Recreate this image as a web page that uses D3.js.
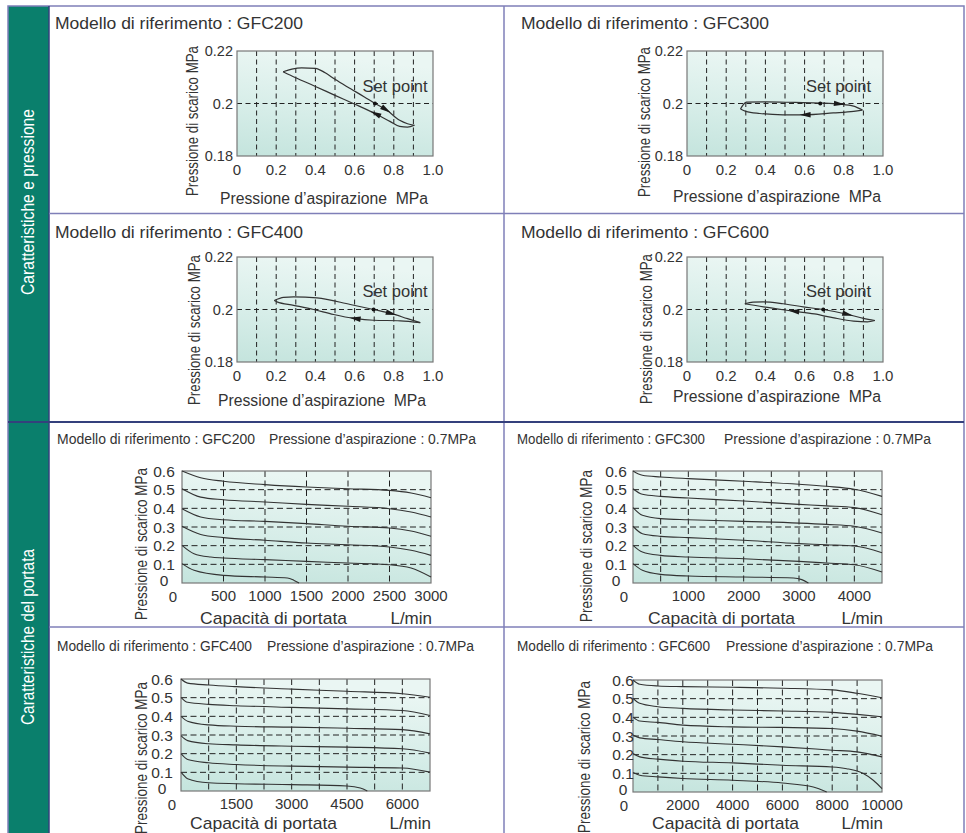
<!DOCTYPE html>
<html><head><meta charset="utf-8">
<script src="https://cdn.jsdelivr.net/npm/d3@7"></script>
<style>body{margin:0;background:#fff}svg{display:block}text{font-family:"Liberation Sans",Arial,sans-serif;fill:#333}</style>
</head><body>
<svg id="c" width="966" height="833"></svg>
<script>
// ---------------- DATA ----------------
const sectionLabels = ["Caratteristiche e pressione", "Caratteristiche del portata"];
const models = ["GFC200", "GFC300", "GFC400", "GFC600"];
const titlePrefix = "Modello di riferimento : ";
const inletNote = "Pressione d\u2019aspirazione : 0.7MPa";

// Pressure characteristics (x: inlet pressure MPa, y: outlet pressure MPa)
const pressureXTicks = [0, 0.2, 0.4, 0.6, 0.8, 1.0];
const pressureXTickLabels = ["0", "0.2", "0.4", "0.6", "0.8", "1.0"];
const pressureXGrid = [0.1, 0.2, 0.3, 0.4, 0.5, 0.6, 0.7, 0.8, 0.9];
const pressureYTicks = [0.18, 0.2, 0.22];
const pressureYTickLabels = ["0.18", "0.2", "0.22"];
const pressureYGrid = [0.2];

const gfc200Upper = [[0.235,0.2121],[0.28,0.2131],[0.33,0.2136],[0.4,0.2134],[0.45,0.2117],[0.5,0.2092],[0.58,0.2056],[0.65,0.2025],[0.704,0.2],[0.763,0.1975],[0.83,0.1936],[0.87,0.1923],[0.905,0.1917]];
const gfc200Lower = [[0.235,0.2121],[0.3,0.2098],[0.4,0.2065],[0.5,0.2031],[0.593,0.2],[0.704,0.1962],[0.78,0.1932],[0.83,0.1913],[0.87,0.1910],[0.905,0.1917]];
const gfc300Upper = [[0.273,0.1979],[0.303,0.2005],[0.405,0.2006],[0.55,0.2004],[0.68,0.2002],[0.78,0.1998],[0.85,0.1990],[0.895,0.1975]];
const gfc300Lower = [[0.273,0.1979],[0.3,0.1970],[0.371,0.1962],[0.49,0.1957],[0.601,0.1957],[0.746,0.1964],[0.85,0.1970],[0.895,0.1975]];
const gfc400Upper = [[0.19,0.2034],[0.238,0.2046],[0.289,0.2048],[0.408,0.2044],[0.578,0.2019],[0.697,0.2],[0.791,0.1984],[0.87,0.1965],[0.935,0.1950]];
const gfc400Lower = [[0.19,0.2034],[0.204,0.2029],[0.289,0.2016],[0.391,0.2],[0.493,0.1981],[0.599,0.1966],[0.697,0.1959],[0.833,0.1957],[0.935,0.1950]];
const gfc600Upper = [[0.295,0.2022],[0.337,0.2028],[0.388,0.2029],[0.49,0.2022],[0.593,0.2010],[0.695,0.2],[0.823,0.1981],[0.9,0.1966],[0.959,0.1958]];
const gfc600Lower = [[0.295,0.2022],[0.39,0.2010],[0.542,0.1994],[0.65,0.1983],[0.75,0.1968],[0.85,0.1956],[0.92,0.1953],[0.959,0.1958]];
const setPoints = [[0.704,0.2],[0.68,0.2],[0.697,0.2],[0.695,0.2]];
const upperArrowX = [0.763, 0.78, 0.79, 0.823];
const lowerArrowX = [0.704, 0.6, 0.6, 0.542];
const setPointLabel = "Set point";
const setPointLabelPos = [[0.64,0.2045],[0.607,0.2045],[0.64,0.2048],[0.607,0.2048]];
const pressureXLabel = "Pressione d\u2019aspirazione\u00a0 MPa";
const outletYLabel = "Pressione di scarico MPa";

// Flow characteristics (x: flow L/min, y: outlet pressure MPa)
const flowXMax = [3000, 4500, 6750, 10000];
const flowXGrid = [
  [500,1000,1500,2000,2500],
  [500,1000,1500,2000,2500,3000,3500,4000],
  [750,1500,2250,3000,3750,4500,5250,6000],
  [1000,2000,3000,4000,5000,6000,7000,8000,9000]
];
const flowXTicks = [
  [0,500,1000,1500,2000,2500,3000],
  [0,1000,2000,3000,4000],
  [0,1500,3000,4500,6000],
  [0,2000,4000,6000,8000,10000]
];
const flowYTicks = [0, 0.1, 0.2, 0.3, 0.4, 0.5, 0.6];
const flowYTickLabels = ["0", "0.1", "0.2", "0.3", "0.4", "0.5", "0.6"];
const flowYGrid = [0.1, 0.2, 0.3, 0.4, 0.5];
const flowXLabel = "Capacit\u00e0 di portata";
const flowUnit = "L/min";

const gfc200Flow = [
  [[0,0.6],[225,0.564],[500,0.545],[1000,0.527],[1500,0.514],[2000,0.505],[2500,0.496],[2760,0.482],[3000,0.457]],
  [[0,0.505],[225,0.46],[500,0.446],[1000,0.434],[1500,0.421],[2000,0.411],[2500,0.398],[2760,0.38],[3000,0.354]],
  [[0,0.398],[225,0.354],[500,0.339],[1000,0.33],[1500,0.318],[2000,0.304],[2500,0.295],[2760,0.279],[3000,0.25]],
  [[0,0.304],[225,0.26],[500,0.243],[1000,0.229],[1500,0.214],[2000,0.205],[2500,0.193],[2760,0.175],[3000,0.148]],
  [[0,0.202],[145,0.157],[346,0.139],[500,0.134],[1000,0.125],[1500,0.116],[2000,0.107],[2500,0.098],[2760,0.08],[3000,0.032]],
  [[0,0.104],[145,0.068],[500,0.041],[1000,0.032],[1270,0.027],[1350,0.014],[1410,0]]
];
const gfc300Flow = [
  [[0,0.6],[170,0.577],[500,0.568],[1000,0.559],[2000,0.545],[3000,0.529],[3500,0.518],[4000,0.502],[4500,0.464]],
  [[0,0.505],[170,0.475],[500,0.464],[1000,0.455],[2000,0.439],[3000,0.421],[3500,0.413],[4000,0.404],[4500,0.366]],
  [[0,0.404],[170,0.3625],[500,0.345],[1000,0.339],[2000,0.33],[3000,0.321],[3500,0.314],[4000,0.304],[4500,0.268]],
  [[0,0.304],[170,0.264],[500,0.25],[1000,0.243],[2000,0.229],[3000,0.211],[3500,0.205],[4000,0.198],[4500,0.1625]],
  [[0,0.202],[170,0.166],[500,0.148],[1000,0.139],[2000,0.13],[3000,0.116],[3500,0.107],[4000,0.098],[4500,0.059]],
  [[0,0.104],[170,0.068],[500,0.046],[1000,0.0375],[2000,0.032],[2900,0.027],[3050,0.018],[3170,0]]
];
const gfc400Flow = [
  [[0,0.6],[180,0.578],[750,0.568],[1500,0.559],[3000,0.546],[4500,0.534],[6000,0.521],[6750,0.502]],
  [[0,0.502],[180,0.475],[750,0.464],[1500,0.457],[3000,0.448],[4500,0.44],[6000,0.431],[6750,0.404]],
  [[0,0.4],[180,0.374],[750,0.354],[1500,0.347],[3000,0.342],[4500,0.336],[6000,0.329],[6750,0.306]],
  [[0,0.297],[180,0.27],[750,0.253],[1500,0.247],[3000,0.24],[4500,0.235],[6000,0.226],[6750,0.203]],
  [[0,0.2],[180,0.169],[750,0.151],[1500,0.142],[3000,0.133],[4500,0.128],[6000,0.123],[6750,0.101]],
  [[0,0.101],[180,0.066],[750,0.044],[1500,0.039],[3000,0.034],[4500,0.027],[4860,0.016],[5050,0]]
];
const gfc600Flow = [
  [[0,0.6],[270,0.577],[1000,0.568],[2000,0.5645],[4000,0.561],[6000,0.556],[8000,0.547],[9000,0.529],[10000,0.505]],
  [[0,0.502],[270,0.475],[1000,0.457],[2000,0.448],[4000,0.439],[6000,0.434],[8000,0.4265],[9000,0.416],[10000,0.403]],
  [[0,0.401],[270,0.38],[1000,0.373],[2000,0.358],[4000,0.349],[6000,0.346],[8000,0.34],[9000,0.326],[10000,0.299]],
  [[0,0.305],[270,0.29],[1000,0.281],[2000,0.269],[4000,0.256],[6000,0.242],[8000,0.224],[9000,0.215],[10000,0.188]],
  [[0,0.206],[270,0.188],[1000,0.176],[2000,0.165],[4000,0.156],[6000,0.143],[8000,0.134],[8580,0.125],[9250,0.099],[9650,0.063],[10000,0.018]],
  [[0,0.104],[270,0.09],[1000,0.081],[2000,0.072],[4000,0.063],[6000,0.048],[7240,0.027],[7780,0]]
];

// ---------------- LAYOUT ----------------
const PW = 196, PH = 105;   // pressure plot size
const FW = 249, FH = 112;   // flow plot size
const topLayout = [
  {px:237, py:51,  tx:55,  ty:29,  ylx:198, yly:121, xlx:220, xly:204},
  {px:687, py:51,  tx:521, ty:29,  ylx:650, yly:122, xlx:673, xly:202},
  {px:237, py:257, tx:55,  ty:238, ylx:200, yly:330, xlx:218, xly:406},
  {px:687, py:257, tx:521, ty:238, ylx:652, yly:329, xlx:673, xly:402}
];
const botLayout = [
  {px:182, py:471, tx:57,  ty:444, t1:198, t2x:269, ylx:147, yly:544, cx:200, cy:624, ytx:-18},
  {px:633, py:471, tx:517, ty:444, t1:188, t2x:724, ylx:592, yly:546, cx:648, cy:624, ytx:-17},
  {px:181, py:679, tx:57,  ty:651, t1:195, t2x:267, ylx:147, yly:758, cx:190, cy:829, ytx:-19},
  {px:633, py:680, tx:517, ty:651, t1:193, t2x:726, ylx:590, yly:757, cx:652, cy:829, ytx:-10}
];

const svg = d3.select("#c");
const defs = svg.append("defs");
const grad = defs.append("linearGradient").attr("id","bg")
  .attr("x1",0.2).attr("y1",0).attr("x2",0).attr("y2",1);
grad.append("stop").attr("offset","0%").attr("stop-color","#eaf6f3");
grad.append("stop").attr("offset","55%").attr("stop-color","#d6ede8");
grad.append("stop").attr("offset","100%").attr("stop-color","#c4e4dd");

// ---------------- FRAME ----------------
const frameCol = "#7f7fb8", navy = "#34407c";
svg.append("rect").attr("x",8).attr("y",6).attr("width",41).attr("height",840).attr("fill","#0a7f6c");
svg.append("rect").attr("x",8).attr("y",6).attr("width",956).attr("height",840)
  .attr("fill","none").attr("stroke",frameCol).attr("stroke-width",1.5);
svg.append("line").attr("x1",49).attr("x2",49).attr("y1",6).attr("y2",833).attr("stroke",navy).attr("stroke-width",1.5);
svg.append("line").attr("x1",504).attr("x2",504).attr("y1",6).attr("y2",833).attr("stroke",frameCol).attr("stroke-width",1.5);
svg.append("line").attr("x1",49).attr("x2",964).attr("y1",213.5).attr("y2",213.5).attr("stroke",frameCol).attr("stroke-width",1.5);
svg.append("line").attr("x1",8).attr("x2",964).attr("y1",422).attr("y2",422).attr("stroke",navy).attr("stroke-width",1.8);
svg.append("line").attr("x1",49).attr("x2",964).attr("y1",627).attr("y2",627).attr("stroke",frameCol).attr("stroke-width",1.5);

const bandPos = [[34,202,186],[34,637,176]];
sectionLabels.forEach((s,i)=>{
  svg.append("text").text(s)
    .attr("transform",`translate(${bandPos[i][0]},${bandPos[i][1]}) rotate(-90)`)
    .attr("text-anchor","middle").attr("font-size",17.5)
    .attr("textLength",bandPos[i][2]).attr("lengthAdjust","spacingAndGlyphs")
    .style("fill","#ffffff");
});

// ---------------- HELPERS ----------------
function arrowOn(pathNode, targetX, reverse, g){
  const total = pathNode.getTotalLength();
  let lo = 0, hi = total;
  for(let k=0;k<40;k++){
    const mid=(lo+hi)/2;
    if(pathNode.getPointAtLength(mid).x < targetX) lo=mid; else hi=mid;
  }
  const l=(lo+hi)/2;
  const p = pathNode.getPointAtLength(l);
  const a = pathNode.getPointAtLength(Math.max(0,l-2));
  const b = pathNode.getPointAtLength(Math.min(total,l+2));
  let ang = Math.atan2(b.y-a.y, b.x-a.x)*180/Math.PI;
  if(reverse) ang += 180;
  g.append("path").attr("d","M5,0 L-6,-2.7 L-6,2.7 Z").attr("fill","#1a1a1a")
    .attr("transform",`translate(${p.x},${p.y}) rotate(${ang})`);
}

// ---------------- PRESSURE PANELS ----------------
const loops = [[gfc200Upper,gfc200Lower],[gfc300Upper,gfc300Lower],[gfc400Upper,gfc400Lower],[gfc600Upper,gfc600Lower]];
loops.forEach((lp,i)=>{
  const L = topLayout[i];
  const g = svg.append("g");
  const x = d3.scaleLinear().domain([0,1]).range([L.px, L.px+PW]);
  const y = d3.scaleLinear().domain([0.18,0.22]).range([L.py+PH, L.py]);
  g.append("text").text(titlePrefix+models[i]).attr("x",L.tx).attr("y",L.ty)
    .attr("font-size",16).attr("textLength",248).attr("lengthAdjust","spacingAndGlyphs");
  g.append("rect").attr("x",x(0)).attr("y",y(0.22)).attr("width",x(1)-x(0)).attr("height",y(0.18)-y(0.22)).attr("fill","url(#bg)");
  g.selectAll(".vg").data(pressureXGrid).join("line")
    .attr("x1",d=>x(d)).attr("x2",d=>x(d)).attr("y1",y(0.22)).attr("y2",y(0.18))
    .attr("stroke","#222").attr("stroke-width",1).attr("stroke-dasharray","5,3.5");
  g.selectAll(".hg").data(pressureYGrid).join("line")
    .attr("x1",x(0)).attr("x2",x(1)).attr("y1",d=>y(d)).attr("y2",d=>y(d))
    .attr("stroke","#222").attr("stroke-width",1).attr("stroke-dasharray","5,3.5");
  g.append("rect").attr("x",x(0)).attr("y",y(0.22)).attr("width",x(1)-x(0)).attr("height",y(0.18)-y(0.22))
    .attr("fill","none").attr("stroke","#777").attr("stroke-width",1.2);
  // ticks
  g.selectAll(".xt").data(pressureXTicks).join("text").text((d,j)=>pressureXTickLabels[j])
    .attr("x",d=>x(d)).attr("y",y(0.18)+19).attr("text-anchor","middle").attr("font-size",15);
  g.selectAll(".yt").data(pressureYTicks).join("text").text((d,j)=>pressureYTickLabels[j])
    .attr("x",x(0)-4).attr("y",d=>y(d)).attr("dy","0.36em").attr("text-anchor","end").attr("font-size",14.5);
  // axis labels
  g.append("text").text(pressureXLabel).attr("x",L.xlx).attr("y",L.xly).attr("font-size",16)
    .attr("textLength",208).attr("lengthAdjust","spacingAndGlyphs");
  g.append("text").text(outletYLabel).attr("transform",`translate(${L.ylx},${L.yly}) rotate(-90)`)
    .attr("text-anchor","middle").attr("font-size",16).attr("textLength",150).attr("lengthAdjust","spacingAndGlyphs");
  // curves
  const line = d3.line().x(d=>x(d[0])).y(d=>y(d[1])).curve(d3.curveMonotoneX);
  const up = g.append("path").datum(lp[0]).attr("d",line).attr("fill","none").attr("stroke","#333").attr("stroke-width",1.2);
  const lo = g.append("path").datum(lp[1]).attr("d",line).attr("fill","none").attr("stroke","#333").attr("stroke-width",1.2);
  arrowOn(up.node(), x(upperArrowX[i]), false, g);
  arrowOn(lo.node(), x(lowerArrowX[i]), true, g);
  g.append("circle").attr("cx",x(setPoints[i][0])).attr("cy",y(setPoints[i][1])).attr("r",2).attr("fill","#111");
  g.append("text").text(setPointLabel).attr("x",x(setPointLabelPos[i][0])).attr("y",y(setPointLabelPos[i][1]))
    .attr("font-size",16.5);
});

// ---------------- FLOW PANELS ----------------
const flows = [gfc200Flow, gfc300Flow, gfc400Flow, gfc600Flow];
flows.forEach((curves,i)=>{
  const L = botLayout[i];
  const g = svg.append("g");
  const x = d3.scaleLinear().domain([0,flowXMax[i]]).range([L.px, L.px+FW]);
  const y = d3.scaleLinear().domain([0,0.6]).range([L.py+FH, L.py]);
  g.append("text").text(titlePrefix+models[i]).attr("x",L.tx).attr("y",L.ty)
    .attr("font-size",15.5).attr("textLength",L.t1).attr("lengthAdjust","spacingAndGlyphs");
  g.append("text").text(inletNote).attr("x",L.t2x).attr("y",L.ty)
    .attr("font-size",15.5).attr("textLength",207).attr("lengthAdjust","spacingAndGlyphs");
  g.append("rect").attr("x",x(0)).attr("y",y(0.6)).attr("width",FW).attr("height",FH).attr("fill","url(#bg)");
  g.selectAll(".vg").data(flowXGrid[i]).join("line")
    .attr("x1",d=>x(d)).attr("x2",d=>x(d)).attr("y1",y(0.6)).attr("y2",y(0))
    .attr("stroke","#222").attr("stroke-width",1).attr("stroke-dasharray","6,3.5");
  g.selectAll(".hg").data(flowYGrid).join("line")
    .attr("x1",x(0)).attr("x2",x(flowXMax[i])).attr("y1",d=>y(d)).attr("y2",d=>y(d))
    .attr("stroke","#222").attr("stroke-width",1).attr("stroke-dasharray","6,3.5");
  g.append("rect").attr("x",x(0)).attr("y",y(0.6)).attr("width",FW).attr("height",FH)
    .attr("fill","none").attr("stroke","#777").attr("stroke-width",1.2);
  g.selectAll(".xt").data(flowXTicks[i]).join("text").text(d=>String(d))
    .attr("x",d=>x(d)).attr("dx",d=>d===0?-9:0).attr("y",d=>y(0)+(d===0?19:18)).attr("text-anchor","middle").attr("font-size",15);
  g.selectAll(".yt").data(flowYTicks).join("text").text((d,j)=>flowYTickLabels[j])
    .attr("x",x(0)+L.ytx).attr("y",d=>y(d)).attr("dy",d=>d===0?"0.2em":"0.36em").attr("text-anchor","middle").attr("font-size",15.5);
  g.append("text").text(flowXLabel).attr("x",L.cx).attr("y",L.cy).attr("font-size",17)
    .attr("textLength",147).attr("lengthAdjust","spacingAndGlyphs");
  g.append("text").text(flowUnit).attr("x",x(flowXMax[i])+1).attr("y",L.cy).attr("font-size",17).attr("text-anchor","end");
  g.append("text").text(outletYLabel).attr("transform",`translate(${L.ylx},${L.yly}) rotate(-90)`)
    .attr("text-anchor","middle").attr("font-size",16).attr("textLength",152).attr("lengthAdjust","spacingAndGlyphs");
  const line = d3.line().x(d=>x(d[0])).y(d=>y(d[1])).curve(d3.curveMonotoneX);
  g.selectAll(".crv").data(curves).join("path").attr("d",line)
    .attr("fill","none").attr("stroke","#333").attr("stroke-width",1.1);
});
</script>
</body></html>
